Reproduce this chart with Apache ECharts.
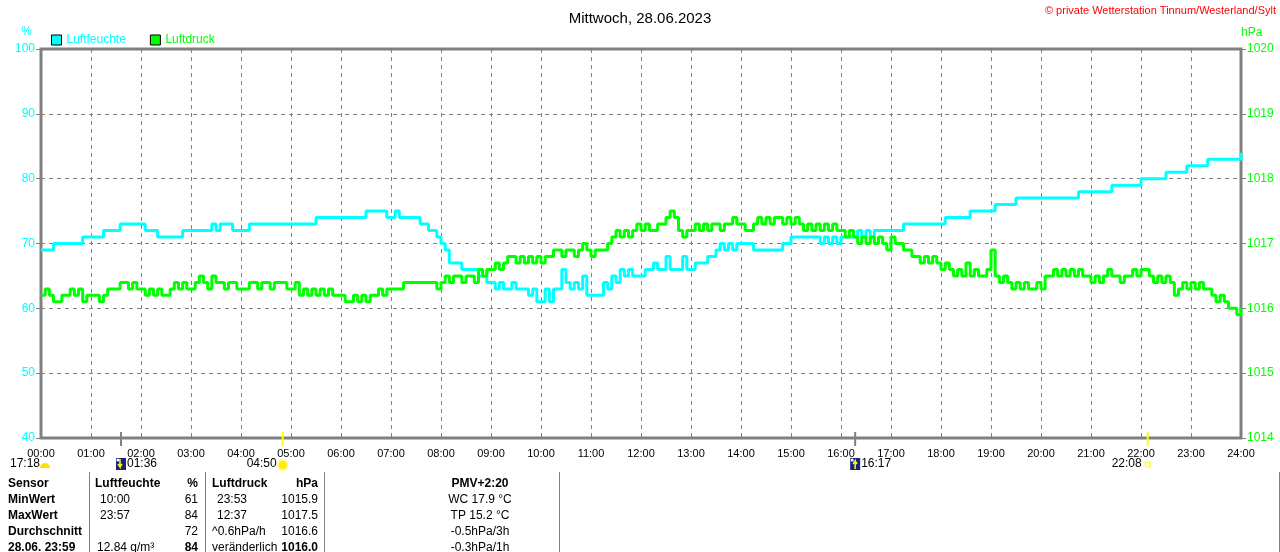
<!DOCTYPE html>
<html><head><meta charset="utf-8">
<script src="https://cdn.jsdelivr.net/npm/echarts/dist/echarts.min.js"></script>
<style>html,body{margin:0;padding:0;background:#fff;overflow:hidden}#c{width:1280px;height:552px}</style>
</head><body><div id="c"></div>
<script>
const chartTitle = 'Mittwoch, 28.06.2023';
const copyright = '\u00A9 private Wetterstation Tinnum/Westerland/Sylt';
const seriesNames = ['Luftfeuchte', 'Luftdruck'];
const hourLabels = ['00:00','01:00','02:00','03:00','04:00','05:00','06:00','07:00','08:00','09:00','10:00','11:00','12:00','13:00','14:00','15:00','16:00','17:00','18:00','19:00','20:00','21:00','22:00','23:00','24:00'];
const stepMinutes = 5;
// Luftfeuchte (%), one value every 5 minutes, 00:00 .. 24:00
const humidity = [
69,69,69,70,70,70,70,70,70,70,71,71,
71,71,71,72,72,72,72,73,73,73,73,73,
73,72,72,72,71,71,71,71,71,71,72,72,
72,72,72,72,72,73,72,73,73,73,72,72,
72,72,73,73,73,73,73,73,73,73,73,73,
73,73,73,73,73,73,74,74,74,74,74,74,
74,74,74,74,74,74,75,75,75,75,75,74,
74,75,74,74,74,74,74,73,73,72,72,71,
70,69,67,67,67,66,66,66,66,65,65,64,
64,63,64,63,63,64,63,63,63,62,63,61,
61,63,61,63,63,66,64,63,64,63,65,62,
62,62,62,64,63,65,64,66,65,66,65,65,
65,66,66,67,66,66,68,66,66,66,68,66,
66,67,67,67,68,68,69,70,69,70,69,70,
70,70,70,69,69,69,69,69,69,69,70,70,
71,71,71,71,71,71,71,70,71,70,71,70,
71,71,71,71,72,71,72,71,72,72,72,72,
72,72,72,73,73,73,73,73,73,73,73,73,
73,74,74,74,74,74,74,75,75,75,75,75,
75,76,76,76,76,76,77,77,77,77,77,77,
77,77,77,77,77,77,77,77,77,78,78,78,
78,78,78,78,78,79,79,79,79,79,79,79,
80,80,80,80,80,80,81,81,81,81,81,82,
82,82,82,82,83,83,83,83,83,83,83,83,
84
];
// Luftdruck (hPa), one value every 5 minutes, 00:00 .. 24:00
const pressure = [
1016.2,1016.3,1016.2,1016.1,1016.1,1016.2,1016.2,1016.3,1016.2,1016.3,1016.1,1016.2,
1016.2,1016.2,1016.1,1016.2,1016.3,1016.3,1016.3,1016.4,1016.4,1016.3,1016.4,1016.3,
1016.3,1016.2,1016.3,1016.2,1016.3,1016.2,1016.2,1016.3,1016.4,1016.3,1016.4,1016.3,
1016.3,1016.4,1016.5,1016.4,1016.3,1016.5,1016.4,1016.4,1016.3,1016.4,1016.4,1016.3,
1016.3,1016.3,1016.4,1016.4,1016.3,1016.4,1016.4,1016.3,1016.4,1016.4,1016.4,1016.3,
1016.3,1016.4,1016.2,1016.3,1016.2,1016.3,1016.2,1016.3,1016.2,1016.3,1016.2,1016.2,
1016.2,1016.1,1016.1,1016.2,1016.1,1016.2,1016.1,1016.2,1016.2,1016.3,1016.2,1016.3,
1016.3,1016.3,1016.3,1016.4,1016.4,1016.4,1016.4,1016.4,1016.4,1016.4,1016.4,1016.3,
1016.4,1016.5,1016.4,1016.5,1016.5,1016.4,1016.5,1016.5,1016.4,1016.6,1016.5,1016.6,
1016.6,1016.7,1016.6,1016.7,1016.8,1016.8,1016.7,1016.8,1016.7,1016.8,1016.7,1016.8,
1016.7,1016.8,1016.8,1016.9,1016.9,1016.8,1016.9,1016.9,1016.8,1016.9,1017.0,1016.9,
1016.8,1016.9,1016.9,1016.9,1017.0,1017.1,1017.2,1017.1,1017.2,1017.1,1017.2,1017.3,
1017.2,1017.3,1017.2,1017.2,1017.3,1017.3,1017.4,1017.5,1017.4,1017.2,1017.1,1017.2,
1017.2,1017.3,1017.2,1017.3,1017.2,1017.3,1017.3,1017.2,1017.3,1017.3,1017.4,1017.3,
1017.3,1017.2,1017.2,1017.3,1017.4,1017.3,1017.4,1017.3,1017.4,1017.4,1017.3,1017.4,
1017.3,1017.4,1017.3,1017.2,1017.3,1017.2,1017.3,1017.2,1017.3,1017.2,1017.3,1017.2,
1017.2,1017.1,1017.2,1017.1,1017.0,1017.1,1017.0,1017.1,1017.0,1017.1,1017.0,1016.9,
1017.1,1017.0,1017.0,1016.9,1016.9,1016.8,1016.8,1016.7,1016.8,1016.7,1016.8,1016.7,
1016.6,1016.7,1016.6,1016.5,1016.6,1016.5,1016.7,1016.5,1016.6,1016.5,1016.5,1016.6,
1016.9,1016.5,1016.4,1016.5,1016.4,1016.3,1016.4,1016.3,1016.4,1016.3,1016.3,1016.4,
1016.3,1016.5,1016.5,1016.6,1016.5,1016.6,1016.5,1016.6,1016.5,1016.6,1016.5,1016.5,
1016.4,1016.5,1016.4,1016.5,1016.6,1016.5,1016.5,1016.4,1016.5,1016.5,1016.6,1016.5,
1016.6,1016.6,1016.5,1016.4,1016.5,1016.4,1016.5,1016.4,1016.2,1016.3,1016.4,1016.3,
1016.4,1016.3,1016.4,1016.3,1016.3,1016.2,1016.1,1016.2,1016.1,1016.0,1016.0,1015.9,
1016.0
];
// sun / moon events (minutes of day)
const events = [
  {label:'01:36', minute:96, kind:'moonset'},
  {label:'04:50', minute:290, kind:'sunrise'},
  {label:'16:17', minute:977, kind:'moonrise'},
  {label:'22:08', minute:1328, kind:'sunset'}
];
const prevEventLabel = '17:18';
// statistics table
const tableHeader = ['Sensor','Luftfeuchte','%','Luftdruck','hPa','PMV+2:20'];
const tableRows = [
  ['MinWert','10:00','61','23:53','1015.9','WC 17.9 \u00B0C'],
  ['MaxWert','23:57','84','12:37','1017.5','TP 15.2 \u00B0C'],
  ['Durchschnitt','','72','^0.6hPa/h','1016.6','-0.5hPa/3h'],
  ['28.06. 23:59','12.84 g/m\u00B3','84','ver\u00E4nderlich','1016.0','-0.3hPa/1h']
];

const FONT = '"Liberation Sans", Arial, sans-serif';
const CYAN = '#00ffff', GREEN = '#00ff00', GREY = '#808080';
const chart = echarts.init(document.getElementById('c'), null, {renderer:'canvas'});

const humData = humidity.map((v,i)=>[i*stepMinutes, v]);
const presData = pressure.map((v,i)=>[i*stepMinutes, v]);

chart.setOption({
  animation:false,
  backgroundColor:'#fff',
  textStyle:{fontFamily:FONT},
  title:{text:chartTitle, left:'center', top:6, textStyle:{fontSize:15, fontWeight:'normal', color:'#000', fontFamily:FONT}},
  legend:{
    left:46, top:29, icon:'rect', itemWidth:10, itemHeight:10, itemGap:24,
    itemStyle:{borderColor:'#000', borderWidth:1},
    textStyle:{fontSize:12, fontFamily:FONT},
    data:[{name:seriesNames[0], textStyle:{color:CYAN}},{name:seriesNames[1], textStyle:{color:GREEN}}]
  },
  grid:{left:41, right:39, top:49, bottom:114, show:true, borderColor:GREY, borderWidth:3, containLabel:false},
  xAxis:{
    type:'value', min:0, max:1440, interval:60,
    axisLine:{show:false}, axisTick:{show:false},
    axisLabel:{color:'#000', fontSize:11, margin:10, fontFamily:FONT, formatter:v=>hourLabels[Math.round(v/60)]},
    splitLine:{show:true, lineStyle:{color:GREY, type:[4,4], width:1}}
  },
  yAxis:[
    {type:'value', min:40, max:100, interval:10, position:'left',
     name:'%', nameLocation:'end', nameGap:11,
     nameTextStyle:{color:CYAN, fontSize:12, align:'right', padding:[0,9,0,0], fontFamily:FONT},
     axisLine:{show:false}, axisTick:{show:true, length:5, lineStyle:{color:GREY}},
     axisLabel:{color:CYAN, fontSize:12, margin:6, fontFamily:FONT, formatter:v=>String(v)},
     splitLine:{show:true, lineStyle:{color:GREY, type:[4,4], width:1}}},
    {type:'value', min:1014, max:1020, interval:1, position:'right',
     name:'hPa', nameLocation:'end', nameGap:10,
     nameTextStyle:{color:GREEN, fontSize:12, align:'left', padding:[0,0,0,0], fontFamily:FONT},
     axisLine:{show:false}, axisTick:{show:true, length:5, lineStyle:{color:GREY}},
     axisLabel:{color:GREEN, fontSize:12, margin:6, fontFamily:FONT, formatter:v=>String(v)},
     splitLine:{show:false}}
  ],
  series:[
    {name:seriesNames[0], type:'line', yAxisIndex:0, data:humData, step:'end', showSymbol:false,
     itemStyle:{color:CYAN}, lineStyle:{color:CYAN, width:3}},
    {name:seriesNames[1], type:'line', yAxisIndex:1, data:presData, step:'end', showSymbol:false,
     itemStyle:{color:GREEN}, lineStyle:{color:GREEN, width:3}}
  ]
});

function buildGraphics(){
  const g = [];
  g.push({type:'text', right:4, top:5, style:{text:copyright, fill:'#ff0000', font:'11px '+FONT}});
  const axisY = chart.convertToPixel({yAxisIndex:0}, 40);
  const rowY = 464;
  // previous-day event at the left margin
  g.push({type:'text', x:10, y:rowY, style:{text:prevEventLabel, fill:'#000', font:'12px '+FONT, textVerticalAlign:'middle'}});
  g.push({type:'sector', shape:{cx:45, cy:rowY+4, r0:0, r:5, startAngle:Math.PI, endAngle:2*Math.PI}, style:{fill:'#ffdd00'}});
  events.forEach(ev=>{
    const x = chart.convertToPixel({xAxisIndex:0}, ev.minute);
    const isSun = ev.kind.indexOf('sun')===0;
    g.push({type:'line', shape:{x1:x, y1:axisY-6, x2:x, y2:axisY+8}, style:{stroke:isSun?'#ffff00':GREY, lineWidth:2}});
    if(!isSun){
      g.push({type:'rect', shape:{x:x-5, y:rowY-6, width:10, height:12}, style:{fill:'#1a237e'}});
      g.push({type:'circle', shape:{cx:x-3, cy:rowY-4, r:1.6}, style:{fill:'#ffffff'}});
      const down = ev.kind==='moonset';
      g.push({type:'polyline', shape:{points: down ? [[x-1,rowY-5],[x-1,rowY+3],[x-3,rowY],[x-1,rowY+3],[x+1,rowY]] : [[x,rowY+5],[x,rowY-3],[x-2,rowY],[x,rowY-3],[x+2,rowY]]}, style:{stroke:'#ffff00', lineWidth:1.5, fill:null}});
      g.push({type:'text', x:x+6, y:rowY, style:{text:ev.label, fill:'#000', font:'12px '+FONT, textVerticalAlign:'middle'}});
    } else {
      if(ev.kind==='sunrise'){
        g.push({type:'circle', shape:{cx:x, cy:rowY+1, r:6}, style:{fill:'#fff7a0'}});
        g.push({type:'circle', shape:{cx:x, cy:rowY+1, r:4}, style:{fill:'#ffee00'}});
      } else {
        g.push({type:'rect', shape:{x:x-2.5, y:rowY-2, width:5, height:5}, style:{fill:null, stroke:'#ffff00', lineWidth:1}});
      }
      g.push({type:'text', x:x-6, y:rowY, style:{text:ev.label, fill:'#000', font:'12px '+FONT, textAlign:'right', textVerticalAlign:'middle'}});
    }
  });
  // table
  const colX = [8, 95, 198, 212, 318, 480];
  const colAlign = ['left','left','right','left','right','center'];
  const rowsY = [484, 500, 516, 532, 548];
  tableHeader.forEach((t,c)=>{
    g.push({type:'text', x:colX[c], y:rowsY[0], style:{text:t, fill:'#000', font:'bold 12px '+FONT, textAlign:colAlign[c], textVerticalAlign:'middle'}});
  });
  tableRows.forEach((row,r)=>{
    row.forEach((t,c)=>{
      if(!t) return;
      let bold = c===0 || (r===3 && (c===2 || c===4));
      let x = colX[c];
      if((c===1 || c===3) && /^\d\d:\d\d$/.test(t)) x += 5;
      if(c===1 && r===3) x += 2;
      g.push({type:'text', x:x, y:rowsY[r+1], style:{text:t, fill:'#000', font:(bold?'bold ':'')+'12px '+FONT, textAlign:colAlign[c], textVerticalAlign:'middle'}});
    });
  });
  [89, 205, 324, 559, 1279].forEach(x=>{
    g.push({type:'line', shape:{x1:x+0.5, y1:472, x2:x+0.5, y2:552}, style:{stroke:GREY, lineWidth:1}});
  });
  return g;
}
chart.setOption({graphic:buildGraphics()});
</script>
</body></html>
